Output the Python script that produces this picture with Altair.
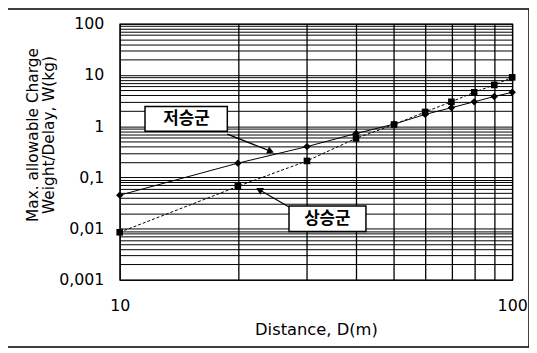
import altair as alt
import pandas as pd

# ---- data ----
distance = [10, 20, 30, 40, 50, 60, 70, 80, 90, 100]
w_low = [0.045, 0.19, 0.40, 0.72, 1.1, 1.7, 2.3, 3.0, 3.8, 4.6]      # 저승군 (diamonds)
w_high = [0.0085, 0.067, 0.21, 0.58, 1.08, 1.9, 3.0, 4.6, 6.4, 9.0]  # 상승군 (squares)

x_tick_labels = ["10", "100"]
x_tick_values = [10, 100]
y_tick_values = [0.001, 0.01, 0.1, 1, 10, 100]
y_tick_labels = ["0,001", "0,01", "0,1", "1", "10", "100"]

series_names = ["저승군", "상승군"]

df = pd.DataFrame({"D": distance, "W_low": w_low, "W_high": w_high})

# annotation placement (data coordinates)
boxes = pd.DataFrame({
    "label": series_names,
    "bx": [11.6, 27.0], "bx2": [18.8, 42.4],
    "by": [2.43, 0.0277], "by2": [0.80, 0.00875],
    "tx": [14.8, 33.8], "ty": [1.39, 0.0156],
})
arrows = pd.DataFrame({
    "ax": [18.8, 27.0], "ay": [0.70, 0.0265],
    "ax2": [24.1, 22.8], "ay2": [0.33, 0.0562],
    "ang": [111.6, 300.4],
})

# grid positions
x_grid = [10 * k for k in range(1, 11)]
y_grid = []
for e in range(-3, 2):
    for k in range(1, 10):
        y_grid.append(round(k * 10 ** e, 6))
y_grid.append(100)

def lab_expr(vals, labs):
    parts = " : ".join(f"datum.value == {v} ? '{l}'" for v, l in zip(vals, labs))
    return parts + " : ''"

FONT = "DejaVu Sans"
xs = alt.Scale(type="log", domain=[10, 100], nice=False)
ys = alt.Scale(type="log", domain=[0.001, 100], nice=False)

xaxis = alt.Axis(values=x_grid, labelExpr=lab_expr(x_tick_values, x_tick_labels),
                 title="Distance, D(m)", grid=True, gridColor="black", gridWidth=1.3,
                 ticks=False, domain=False, labelOverlap=False, labelFlush=False,
                 labelFont=FONT, labelFontSize=16, labelColor="black", labelPadding=18,
                 titleFont=FONT, titleFontSize=16.5, titleFontWeight="normal",
                 titleColor="black", titlePadding=8)
yaxis = alt.Axis(values=y_grid, labelExpr=lab_expr(y_tick_values, y_tick_labels),
                 title=["Max. allowable Charge", "Weight/Delay, W(kg)"],
                 grid=True, gridColor="black", gridWidth=1,
                 ticks=False, domain=False, labelOverlap=False, labelFlush=False,
                 labelFont=FONT, labelFontSize=16, labelColor="black", labelPadding=16,
                 titleFont=FONT, titleFontSize=15.5, titleFontWeight="normal",
                 titleColor="black", titleLineHeight=16,
                 titleX=-88, titleY=112, titleBaseline="middle", titleAngle=270)

def X(f):
    return alt.X(f, type="quantitative", scale=xs, axis=xaxis)

def Y(f):
    return alt.Y(f, type="quantitative", scale=ys, axis=yaxis)

base = alt.Chart(df)
line_low = base.mark_line(color="black", strokeWidth=1).encode(x=X("D"), y=Y("W_low"))
line_high = base.mark_line(color="black", strokeWidth=1, strokeDash=[3, 2]).encode(x=X("D"), y=Y("W_high"))
pts_low = base.mark_point(shape="diamond", filled=True, color="black", size=55, opacity=1).encode(x=X("D"), y=Y("W_low"))
pts_high = base.mark_point(shape="square", filled=True, color="black", size=45, opacity=1).encode(x=X("D"), y=Y("W_high"))

arr = alt.Chart(arrows)
arrow_lines = arr.mark_rule(color="black", strokeWidth=1.2).encode(
    x=X("ax"), y=Y("ay"), x2="ax2", y2="ay2")
arrow_heads = arr.mark_point(shape="triangle", filled=True, color="black", size=60, opacity=1).encode(
    x=X("ax2"), y=Y("ay2"), angle=alt.Angle("ang:Q", scale=None))

bx = alt.Chart(boxes)
box_rects = bx.mark_rect(fill="white", stroke="black", strokeWidth=1.5).encode(
    x=X("bx"), x2="bx2", y=Y("by"), y2="by2")
box_text = bx.mark_text(font="Noto Sans CJK KR", fontSize=17, fontWeight="bold", color="black").encode(
    x=X("tx"), y=Y("ty"), text="label:N")

frame = alt.Chart(alt.Data(values=[{"a": 1}])).mark_rect(
    fillOpacity=0, stroke="black", strokeWidth=1.5).encode(
    x=alt.value(-116), x2=alt.value(414), y=alt.value(-15), y2=alt.value(327))

chart = alt.layer(line_low, line_high, pts_low, pts_high, arrow_lines, arrow_heads,
                  box_rects, box_text, frame).properties(
    width=397, height=259,
    autosize=alt.AutoSizeParams(type="none"),
    padding={"left": 113, "top": 14, "right": 17, "bottom": 72},
    background="white",
).configure_view(stroke="black", strokeWidth=1.2)

chart.save("out.html", embed_options={"renderer": "svg", "actions": False})
